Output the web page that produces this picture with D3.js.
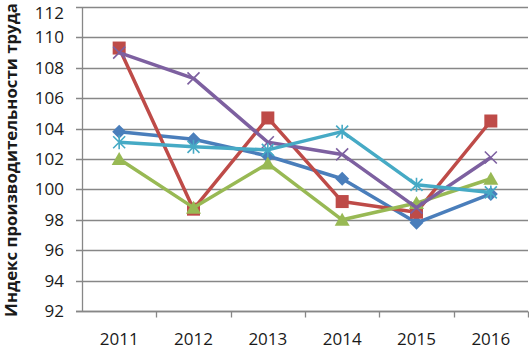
<!DOCTYPE html>
<html>
<head>
<meta charset="utf-8">
<script src="https://cdn.jsdelivr.net/npm/d3@7"></script>
<style>
  body { margin: 0; background: #fff; }
  svg { display: block; font-family: "Open Sans", sans-serif; }
</style>
</head>
<body>
<div id="chart"></div>
<script>
// Chart data
const years = ['2011', '2012', '2013', '2014', '2015', '2016'];
const blueValues = [103.8, 103.3, 102.2, 100.7, 97.8, 99.7];
const redValues = [109.3, 98.7, 104.7, 99.2, 98.5, 104.5];
const greenValues = [102.0, 98.8, 101.7, 98.0, 99.1, 100.7];
const purpleValues = [109.0, 107.3, 103.1, 102.3, 98.8, 102.1];
const cyanValues = [103.1, 102.8, 102.6, 103.8, 100.3, 99.8];
const yTicks = [92, 94, 96, 98, 100, 102, 104, 106, 108, 110, 112];
const axisTitle = 'Индекс производительности труда';

const series = [
  { values: blueValues, color: '#4a7ebb', marker: 'diamond' },
  { values: redValues, color: '#be4b48', marker: 'square' },
  { values: greenValues, color: '#98b954', marker: 'triangle' },
  { values: purpleValues, color: '#7d60a0', marker: 'cross' },
  { values: cyanValues, color: '#46aac5', marker: 'star' }
];

const width = 529;
const height = 349;
const margin = { top: 7, right: 1, bottom: 38, left: 82 };

const svg = d3.select('#chart').append('svg')
  .attr('width', width)
  .attr('height', height);

const x = d3.scaleBand()
  .domain(years)
  .range([margin.left, width - margin.right]);

const y = d3.scaleLinear()
  .domain([92, 112])
  .range([height - margin.bottom, margin.top]);

// Gridlines
svg.append('g')
  .selectAll('line')
  .data(yTicks)
  .join('line')
  .attr('x1', margin.left - 6)
  .attr('x2', width - margin.right)
  .attr('y1', d => Math.round(y(d)) + 0.5)
  .attr('y2', d => Math.round(y(d)) + 0.5)
  .attr('stroke', '#878787')
  .attr('stroke-width', 1.3);

// Y axis (top label nudged down so it stays inside the page)
svg.append('g')
  .attr('transform', `translate(${margin.left},0)`)
  .call(d3.axisLeft(y).tickValues(yTicks).tickSize(0).tickPadding(18))
  .call(g => g.select('.domain').attr('stroke', '#878787').attr('stroke-width', 1.3))
  .call(g => g.selectAll('text')
    .attr('font-size', 17)
    .attr('fill', '#1a1a1a')
    .attr('font-family', '"Open Sans", sans-serif')
    .attr('dy', d => d === 112 ? '0.68em' : '0.32em'));

// X axis
const xAxis = svg.append('g')
  .attr('transform', `translate(0,${Math.round(y(92)) + 0.5})`);
xAxis.append('line')
  .attr('x1', margin.left - 6)
  .attr('x2', width - margin.right)
  .attr('stroke', '#878787')
  .attr('stroke-width', 1.3);
xAxis.selectAll('.tick-mark')
  .data(years)
  .join('line')
  .attr('class', 'tick-mark')
  .attr('x1', d => Math.round(x(d) + x.bandwidth()) + 0.5)
  .attr('x2', d => Math.round(x(d) + x.bandwidth()) + 0.5)
  .attr('y1', 0)
  .attr('y2', 6)
  .attr('stroke', '#878787')
  .attr('stroke-width', 1.3);
xAxis.selectAll('text')
  .data(years)
  .join('text')
  .attr('x', d => x(d) + x.bandwidth() / 2)
  .attr('y', 33)
  .attr('text-anchor', 'middle')
  .attr('font-size', 17)
  .attr('fill', '#1a1a1a')
  .text(d => d);

// Axis title
svg.append('text')
  .attr('transform', `translate(17,${(margin.top + height - margin.bottom) / 2 + 1}) rotate(-90)`)
  .attr('text-anchor', 'middle')
  .attr('font-size', 16.8)
  .attr('font-weight', 'bold')
  .attr('fill', '#1a1a1a')
  .text(axisTitle);

const line = d3.line()
  .x((d, i) => x(years[i]) + x.bandwidth() / 2)
  .y(d => y(d));

function drawMarker(g, type, color) {
  if (type === 'diamond') {
    g.append('path').attr('d', 'M0,-7L7,0L0,7L-7,0Z').attr('fill', color);
  } else if (type === 'square') {
    g.append('rect').attr('x', -6.5).attr('y', -6.5).attr('width', 13).attr('height', 13).attr('fill', color);
  } else if (type === 'triangle') {
    g.append('path').attr('d', 'M0,-7L7.5,6L-7.5,6Z').attr('fill', color);
  } else if (type === 'cross') {
    g.append('path').attr('d', 'M-6,-6L6,6M-6,6L6,-6').attr('stroke', color).attr('stroke-width', 1.6);
  } else if (type === 'star') {
    g.append('path').attr('d', 'M-6,-6L6,6M-6,6L6,-6M0,-7L0,7').attr('stroke', color).attr('stroke-width', 1.6);
  }
}

series.forEach(s => {
  svg.append('path')
    .datum(s.values)
    .attr('d', line)
    .attr('fill', 'none')
    .attr('stroke', s.color)
    .attr('stroke-width', 3.5)
    .attr('stroke-linejoin', 'round');

  s.values.forEach((v, i) => {
    const g = svg.append('g')
      .attr('transform', `translate(${x(years[i]) + x.bandwidth() / 2},${y(v)})`);
    drawMarker(g, s.marker, s.color);
  });
});
</script>
</body>
</html>
